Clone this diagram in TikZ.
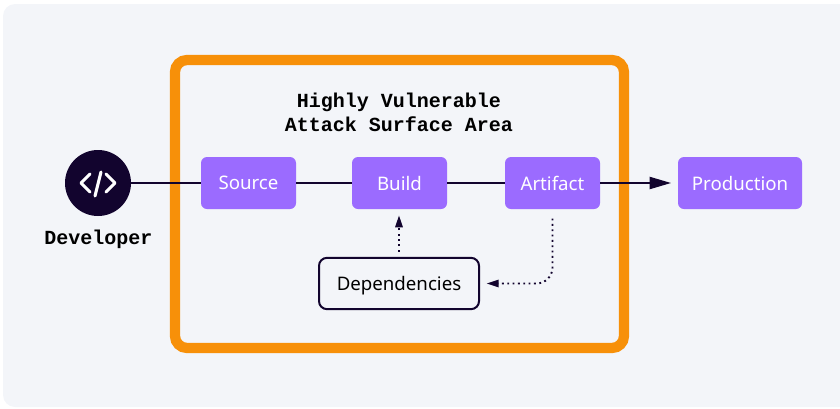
\documentclass[tikz,border=0pt]{standalone}
\usepackage{fontspec}
\setmainfont{Noto Sans}
\newfontfamily\monobold{Liberation Mono}
\usepackage{xcolor}
\usetikzlibrary{arrows.meta}
\definecolor{panelbg}{HTML}{F3F5F9}
\definecolor{surface}{HTML}{F79009}
\definecolor{stage}{HTML}{9B6BFF}
\definecolor{ink}{HTML}{12042E}

\begin{document}
\begin{tikzpicture}[x = .75pt, y = -.75pt,
  stagebox/.style = {fill = stage, text = white, rounded corners = 4.5pt, minimum height = 39pt, text depth = 0pt, font = \fontsize{14}{16}\selectfont},
  monolabel/.style = {align = center, font = \monobold\bfseries\fontsize{15}{18}\selectfont, text = black},
  flow/.style = {draw = ink, line width = 1.5pt},
  dotflow/.style = {draw = ink, line width = 1.4pt, dash pattern = on 1.4pt off 2.6pt}]
\useasboundingbox (0, 0) rectangle (840, 408);
\def\flowy{183}

\fill [panelbg, rounded corners = 9pt] (3, 4) rectangle (860, 407);
\draw [surface, line width = 7.7pt, rounded corners = 9pt] (175, 60) rectangle (624, 348);

\node [circle, fill = ink, minimum size = 49.5pt, inner sep = 0] (dev) at (98, \flowy) {};
\node [monolabel] (devlabel) at (98.5, 239) {Developer};
\node [monolabel] (title) at (399, 112) {Highly Vulnerable\\Attack Surface Area};

\node [stagebox, minimum width = 71.25pt] (source) at (248.5, \flowy) {Source};
\node [stagebox, minimum width = 71.25pt] (build) at (399.5, \flowy) {Build};
\node [stagebox, minimum width = 71.25pt] (artifact) at (552.5, \flowy) {Artifact};
\node [stagebox, minimum width = 93pt] (production) at (740, \flowy) {Production};
\node [draw = ink, line width = 1.5pt, rounded corners = 6pt, minimum width = 120pt, minimum height = 38.5pt, text depth = 0pt, font = \fontsize{14}{16}\selectfont] (deps) at (399, 283.5) {Dependencies};

% pipeline
\draw [flow] (dev) -- (source);
\draw [flow] (source) -- (build);
\draw [flow] (build) -- (artifact);
\draw [flow, -{Triangle[length=16pt, width=9pt]}, shorten > = 5pt] (artifact) -- (production);

% dependency links
\draw [dotflow, -{Triangle[length=9pt, width=5.5pt]}, shorten < = 4pt, shorten > = 4.5pt] (deps.north) -- (deps.north |- build.south);
\draw [dotflow, -{Triangle[length=9pt, width=5.5pt]}, rounded corners = 12pt, shorten < = 7pt, shorten > = 5pt] (artifact.south) |- (deps.east);

% code icon
\draw [white, line width = 2.3pt, line cap = round, line join = round] (90, 174) -- (81, 183) -- (90, 192);
\draw [white, line width = 2.3pt, line cap = round, line join = round] (106, 174) -- (115, 183) -- (106, 192);
\draw [white, line width = 2.3pt, line cap = round] (101, 172) -- (95, 196);
\end{tikzpicture}
\end{document}
